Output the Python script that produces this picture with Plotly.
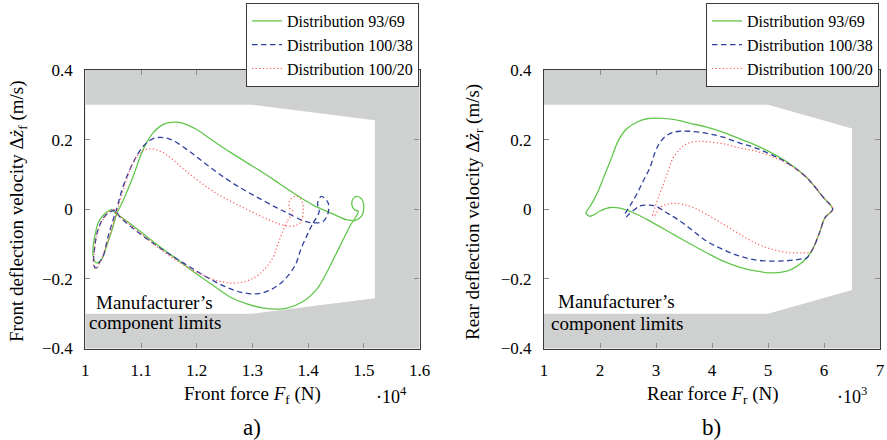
import plotly.graph_objects as go

# ---------------- data ----------------
# Panel a) front: force in 1e4 N, deflection velocity in m/s
front_green_x = [1.490, 1.475, 1.454, 1.433, 1.415, 1.391, 1.362, 1.344, 1.318, 1.290, 1.260, 1.230, 1.200, 1.170,
                 1.140, 1.110, 1.086, 1.065, 1.053, 1.047, 1.026, 1.017, 1.014, 1.020, 1.029, 1.038, 1.050, 1.056,
                 1.068, 1.086, 1.104, 1.122, 1.140, 1.158, 1.176, 1.200, 1.230, 1.260, 1.290, 1.320, 1.350, 1.380,
                 1.409, 1.445, 1.469, 1.485, 1.496, 1.500, 1.496, 1.487, 1.480, 1.479, 1.484, 1.490]
front_green_y = [-0.006, -0.049, -0.116, -0.183, -0.231, -0.265, -0.284, -0.287, -0.283, -0.272, -0.252, -0.219,
                 -0.186, -0.150, -0.115, -0.078, -0.048, -0.023, -0.010, -0.001, -0.030, -0.078, -0.135, -0.154,
                 -0.145, -0.107, -0.049, -0.015, 0.025, 0.095, 0.172, 0.220, 0.244, 0.250, 0.247, 0.229, 0.196,
                 0.164, 0.134, 0.104, 0.072, 0.040, 0.012, -0.014, -0.030, -0.032, -0.020, 0.005, 0.030, 0.037,
                 0.028, 0.010, -0.002, -0.006]

front_blue_x = [1.420, 1.407, 1.398, 1.387, 1.377, 1.356, 1.332, 1.308, 1.278, 1.248, 1.218, 1.188, 1.158, 1.122,
                1.086, 1.062, 1.053, 1.035, 1.023, 1.017, 1.016, 1.021, 1.026, 1.032, 1.041, 1.050, 1.056, 1.068,
                1.086, 1.104, 1.122, 1.140, 1.158, 1.188, 1.218, 1.248, 1.278, 1.308, 1.344, 1.362, 1.391, 1.409,
                1.427, 1.436, 1.436, 1.424, 1.417, 1.420]
front_blue_y = [-0.006, -0.045, -0.075, -0.115, -0.160, -0.205, -0.232, -0.243, -0.238, -0.220, -0.195, -0.166,
                -0.136, -0.098, -0.055, -0.022, -0.003, -0.020, -0.058, -0.107, -0.164, -0.168, -0.151, -0.135,
                -0.078, -0.030, -0.001, 0.066, 0.134, 0.181, 0.203, 0.206, 0.197, 0.165, 0.128, 0.093, 0.062,
                0.035, 0.004, -0.010, -0.033, -0.039, -0.035, -0.010, 0.018, 0.037, 0.018, -0.006]

front_red_x = [1.373, 1.362, 1.344, 1.338, 1.323, 1.302, 1.272, 1.242, 1.212, 1.182, 1.152, 1.122, 1.086, 1.056,
               1.050, 1.040, 1.027, 1.019, 1.015, 1.016, 1.020, 1.026, 1.034, 1.043, 1.049, 1.056, 1.065, 1.074,
               1.083, 1.098, 1.116, 1.134, 1.152, 1.176, 1.206, 1.236, 1.266, 1.296, 1.326, 1.350, 1.371, 1.386,
               1.391, 1.389, 1.380, 1.368, 1.366, 1.373]
front_red_y = [-0.007, -0.036, -0.107, -0.135, -0.170, -0.198, -0.212, -0.207, -0.190, -0.165, -0.135, -0.098,
               -0.052, -0.012, -0.002, -0.012, -0.045, -0.090, -0.140, -0.168, -0.170, -0.155, -0.120, -0.080,
               -0.045, -0.010, 0.037, 0.086, 0.124, 0.162, 0.174, 0.167, 0.149, 0.116, 0.078, 0.045, 0.019,
               -0.005, -0.028, -0.043, -0.049, -0.039, -0.010, 0.023, 0.037, 0.028, 0.005, -0.007]

# Panel b) rear: force in 1e3 N
rear_green_x = [6.155, 5.988, 5.691, 5.393, 5.095, 4.798, 4.500, 4.202, 3.905, 3.607, 3.309, 3.013, 2.834, 2.655,
                2.477, 2.327, 2.209, 2.089, 1.970, 1.880, 1.791, 1.750, 1.809, 1.880, 2.000, 2.179, 2.357, 2.595,
                2.893, 3.309, 3.607, 3.905, 4.202, 4.500, 4.798, 5.095, 5.334, 5.513, 5.691, 5.809, 5.929, 6.018,
                6.155]
rear_green_y = [0.000, 0.034, 0.091, 0.130, 0.159, 0.183, 0.202, 0.221, 0.236, 0.247, 0.258, 0.262, 0.260, 0.250,
                0.231, 0.197, 0.149, 0.101, 0.053, 0.024, 0.000, -0.010, -0.020, -0.017, -0.005, 0.005, 0.003,
                -0.010, -0.034, -0.072, -0.099, -0.125, -0.149, -0.167, -0.178, -0.183, -0.178, -0.164, -0.140,
                -0.111, -0.063, -0.024, 0.000]

rear_blue_x = [6.155, 5.988, 5.691, 5.393, 5.095, 4.798, 4.500, 4.202, 3.905, 3.607, 3.429, 3.309, 3.190, 3.071,
               2.982, 2.893, 2.774, 2.655, 2.536, 2.446, 2.464, 2.506, 2.625, 2.714, 2.833, 2.982, 3.190, 3.429,
               3.667, 3.905, 4.202, 4.500, 4.798, 5.095, 5.333, 5.512, 5.630, 5.691, 5.809, 5.929, 6.018, 6.155]
rear_blue_y = [0.000, 0.034, 0.091, 0.128, 0.154, 0.175, 0.190, 0.207, 0.218, 0.224, 0.224, 0.221, 0.212, 0.192,
               0.163, 0.120, 0.082, 0.043, 0.010, -0.015, -0.022, -0.016, 0.000, 0.010, 0.012, 0.010, -0.010,
               -0.034, -0.063, -0.092, -0.116, -0.135, -0.146, -0.149, -0.148, -0.145, -0.142, -0.140, -0.111,
               -0.063, -0.024, 0.000]

rear_red_x = [6.155, 5.988, 5.691, 5.393, 5.095, 4.798, 4.500, 4.202, 3.905, 3.727, 3.548, 3.429, 3.309, 3.220,
              3.131, 3.042, 2.982, 2.940, 2.982, 3.071, 3.190, 3.309, 3.488, 3.667, 3.905, 4.202, 4.500, 4.798,
              5.095, 5.393, 5.631, 5.750, 5.809, 5.929, 6.018, 6.155]
rear_red_y = [0.000, 0.034, 0.090, 0.127, 0.150, 0.166, 0.176, 0.188, 0.194, 0.195, 0.188, 0.173, 0.149, 0.111,
              0.072, 0.034, 0.005, -0.019, -0.017, 0.005, 0.014, 0.017, 0.014, 0.005, -0.015, -0.043, -0.072,
              -0.099, -0.116, -0.125, -0.125, -0.125, -0.111, -0.063, -0.024, 0.000]

# Manufacturer's component limits (admissible region)
limit_front_x = [1.0, 1.30, 1.52, 1.52, 1.30, 1.0]
limit_front_y = [0.30, 0.30, 0.256, -0.256, -0.30, -0.30]
limit_rear_x = [1.0, 5.0, 6.5, 6.5, 5.0, 1.0]
limit_rear_y = [0.30, 0.30, 0.232, -0.232, -0.30, -0.30]

series_names = ["Distribution 93/69", "Distribution 100/38", "Distribution 100/20"]

# ---------------- styling ----------------
FONT = "Liberation Serif, Times New Roman, serif"
GRAY = "#cfd0d0"
GREEN = "#62c64c"
BLUE = "#2f3f9f"
RED = "#ff5a5a"
styles = [dict(color=GREEN, width=1.3, dash="solid"),
          dict(color=BLUE, width=1.3, dash="5.5px,3.5px"),
          dict(color=RED, width=1.2, dash="1.2px,2.4px")]

fig = go.Figure()

# admissible region as white polygon over gray background
fig.add_trace(go.Scatter(x=limit_front_x, y=limit_front_y, fill="toself", fillcolor="white",
                         line=dict(width=0, color="white"), mode="lines", showlegend=False,
                         hoverinfo="skip", xaxis="x", yaxis="y"))
fig.add_trace(go.Scatter(x=limit_rear_x, y=limit_rear_y, fill="toself", fillcolor="white",
                         line=dict(width=0, color="white"), mode="lines", showlegend=False,
                         hoverinfo="skip", xaxis="x2", yaxis="y2"))

front = [(front_green_x, front_green_y), (front_blue_x, front_blue_y), (front_red_x, front_red_y)]
rear = [(rear_green_x, rear_green_y), (rear_blue_x, rear_blue_y), (rear_red_x, rear_red_y)]

for (xs, ys), name, st in zip(front, series_names, styles):
    fig.add_trace(go.Scatter(x=xs, y=ys, mode="lines", name=name, line=st,
                             xaxis="x", yaxis="y", legend="legend", line_shape="spline"))
for (xs, ys), name, st in zip(rear, series_names, styles):
    fig.add_trace(go.Scatter(x=xs, y=ys, mode="lines", name=name, line=st,
                             xaxis="x2", yaxis="y2", legend="legend2", line_shape="spline"))

W, H = 887, 440
axis_common = dict(showline=True, linecolor="#3a3a3a", linewidth=1.2, mirror="ticks", ticks="inside",
                   ticklen=5, tickcolor="#8c8c8c", tickwidth=1, showgrid=False, zeroline=False,
                   automargin=False, tickfont=dict(family=FONT, size=17, color="black"))
ydom = [1 - 348.5 / H, 1 - 70 / H]

legend_common = dict(bgcolor="white", bordercolor="#3a3a3a", borderwidth=1,
                     font=dict(family=FONT, size=16, color="black"),
                     xanchor="right", yanchor="top", y=1 - 3 / H, tracegroupgap=0)

fig.update_layout(
    width=W, height=H, margin=dict(l=0, r=0, t=0, b=0, pad=0, autoexpand=False),
    paper_bgcolor="white", plot_bgcolor=GRAY,
    font=dict(family=FONT, color="black"),
    xaxis=dict(domain=[85.3 / W, 419.5 / W], range=[1, 1.6], tick0=1, dtick=0.1, anchor="y",
               ticklabelstandoff=6, **axis_common),
    yaxis=dict(domain=ydom, range=[-0.4, 0.4], tick0=-0.4, dtick=0.2, anchor="x",
               ticklabelstandoff=8, **axis_common),
    xaxis2=dict(domain=[544 / W, 880 / W], range=[1, 7], tick0=1, dtick=1, anchor="y2",
                ticklabelstandoff=6, **axis_common),
    yaxis2=dict(domain=ydom, range=[-0.4, 0.4], tick0=-0.4, dtick=0.2, anchor="x2",
                ticklabelstandoff=8, **axis_common),
    legend=dict(x=419 / W, **legend_common),
    legend2=dict(x=879 / W, **legend_common),
    showlegend=True,
)

def pa(text, px, py, size=19, angle=0):
    fig.add_annotation(text=text, x=px / W, y=1 - py / H, xref="paper", yref="paper",
                       showarrow=False, xanchor="center", yanchor="middle", textangle=angle,
                       font=dict(family=FONT, size=size, color="black"))

pa("Front force <i>F</i><sub>f</sub> (N)", 252, 395)
pa("·10<sup>4</sup>", 391, 395, size=18)
pa("a)", 252, 427, size=23)
pa("Rear force <i>F</i><sub>r</sub> (N)", 712.5, 395)
pa("·10<sup>3</sup>", 851.7, 395, size=18)
pa("b)", 711.7, 427, size=23)
pa("Front deflection velocity Δ<i>ż</i><sub>f</sub> (m/s)", 18, 211, angle=-90)
pa("Rear deflection velocity Δ<i>ż</i><sub>r</sub> (m/s)", 474, 212, angle=-90)

# "Manufacturer's component limits" labels, one annotation per line
label_lines = ["Manufacturer’s", "component limits"]
for txt, yv in zip(label_lines, [-0.2685, -0.326]):
    fig.add_annotation(text=txt, x=1.125, y=yv, xref="x", yref="y", showarrow=False,
                       font=dict(family=FONT, size=19, color="black"))
for txt, yv in zip(label_lines, [-0.2646, -0.3273]):
    fig.add_annotation(text=txt, x=2.298, y=yv, xref="x2", yref="y2", showarrow=False,
                       font=dict(family=FONT, size=19, color="black"))

# remove the default page margin so the figure fills the 887x440 window exactly
fig.write_html("out.html", config={"displayModeBar": False},
               post_script="document.body.style.margin='0px';")
